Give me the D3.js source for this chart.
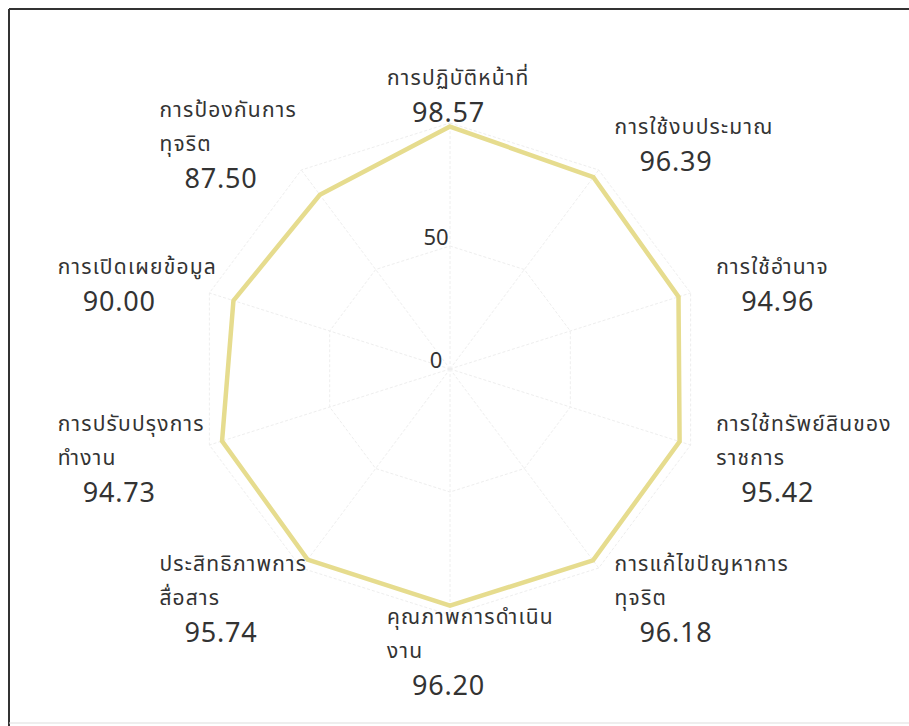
<!DOCTYPE html>
<html>
<head>
<meta charset="utf-8">
<script src="https://cdn.jsdelivr.net/npm/d3@7"></script>
<style>
  body { margin: 0; background: #fff; }
  svg text { font-family: "Noto Sans Thai", "Noto Sans", "DejaVu Sans", sans-serif; fill: #333; }
</style>
</head>
<body>
<div id="chart"></div>
<script>
// axis names (each line of a label is one array entry)
var categories = [
    ["การปฏิบัติหน้าที่"],
    ["การใช้งบประมาณ"],
    ["การใช้อำนาจ"],
    ["การใช้ทรัพย์สินของ", "ราชการ"],
    ["การแก้ไขปัญหาการ", "ทุจริต"],
    ["คุณภาพการดำเนิน", "งาน"],
    ["ประสิทธิภาพการ", "สื่อสาร"],
    ["การปรับปรุงการ", "ทำงาน"],
    ["การเปิดเผยข้อมูล"],
    ["การป้องกันการ", "ทุจริต"]
];
var scores = [98.57, 96.39, 94.96, 95.42, 96.18, 96.20, 95.74, 94.73, 90.00, 87.50];
var tickValues = [0, 50, 100];
var tickLabels = ["0", "50"];

var width = 909, height = 726;
var cx = 450, cy = 369;

var svg = d3.select("#chart").append("svg")
    .attr("width", width)
    .attr("height", height);

// frame
svg.append("line").attr("x1", 9).attr("y1", 9).attr("x2", 909).attr("y2", 9)
    .style("stroke", "#333").style("stroke-width", 2);
svg.append("line").attr("x1", 9).attr("y1", 9).attr("x2", 9).attr("y2", 726)
    .style("stroke", "#333").style("stroke-width", 2);
svg.append("line").attr("x1", 9).attr("y1", 723).attr("x2", 909).attr("y2", 723)
    .style("stroke", "#ddd").style("stroke-width", 1);

// the scanned chart is a little wider than tall
var rx = d3.scaleLinear().domain([0, 100]).range([0, 253]);
var ry = d3.scaleLinear().domain([0, 100]).range([0, 246]);
var angle = d3.scaleLinear().domain([0, categories.length]).range([0, 2 * Math.PI]);

function pt(i, v) {
    var a = angle(i);
    return [cx + Math.sin(a) * rx(v), cy - Math.cos(a) * ry(v)];
}

var g = svg.append("g");

// grid rings
tickValues.forEach(function (t) {
    if (t === 0) return;
    var ring = d3.range(categories.length).map(function (i) { return pt(i, t); });
    g.append("path")
        .attr("d", d3.line()(ring) + "Z")
        .style("fill", "none")
        .style("stroke", "#eeeeee")
        .style("stroke-width", 1)
        .style("stroke-dasharray", "3,2");
});

// spokes
categories.forEach(function (c, i) {
    var p = pt(i, 100);
    g.append("line")
        .attr("x1", cx).attr("y1", cy)
        .attr("x2", p[0]).attr("y2", p[1])
        .style("stroke", "#eeeeee")
        .style("stroke-width", 1)
        .style("stroke-dasharray", "3,2");
});

// data polygon
var poly = scores.map(function (v, i) { return pt(i, v); });
g.append("path")
    .attr("d", d3.line()(poly) + "Z")
    .style("fill", "none")
    .style("stroke", "#e6dc8e")
    .style("stroke-width", 4.5)
    .style("stroke-linejoin", "miter");

// tick labels
tickLabels.forEach(function (t, k) {
    g.append("text")
        .attr("x", cx - 14)
        .attr("y", cy - ry(tickValues[k]) - 8)
        .attr("text-anchor", "middle")
        .attr("dominant-baseline", "central")
        .style("font-size", "22px")
        .text(t);
});

// point labels: left-aligned blocks, value indented
var blockW = 126, labelR = 280;
var lineH = 34, numGap = 35;
categories.forEach(function (lines, i) {
    var a = angle(i);
    var s = Math.sin(a);
    var px = cx + s * labelR;
    var py = cy + 3 - Math.cos(a) * (i === 0 ? 276 : labelR);
    var f = Math.abs(s) < 0.01 ? 0.5 : (s > 0 ? 0 : 1);
    var left = px - blockW * f;
    var total = (lines.length - 1) * lineH + numGap;
    var y0 = py - total / 2;
    var t = g.append("g");
    lines.forEach(function (ln, j) {
        t.append("text")
            .attr("x", left)
            .attr("y", y0 + j * lineH)
            .attr("dominant-baseline", "central")
            .style("font-size", "21px")
            .style("letter-spacing", "1.2px")
            .text(ln);
    });
    t.append("text")
        .attr("x", left + 25)
        .attr("y", y0 + (lines.length - 1) * lineH + numGap)
        .attr("dominant-baseline", "central")
        .style("font-size", "27px")
        .style("letter-spacing", "0.8px")
        .text(scores[i].toFixed(2));
});
</script>
</body>
</html>
